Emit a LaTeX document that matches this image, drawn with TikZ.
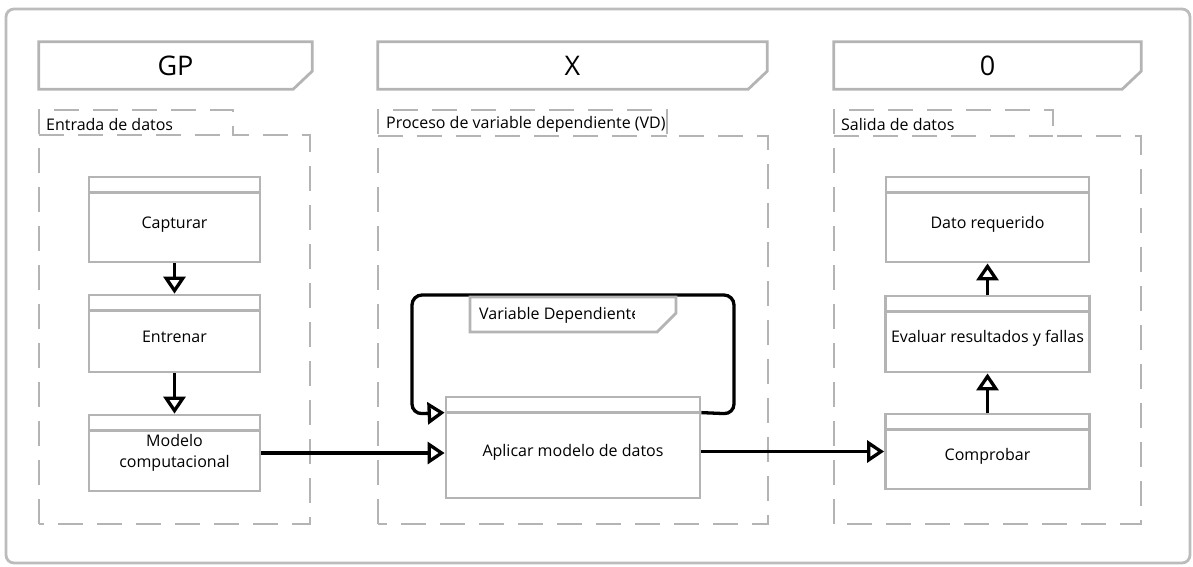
\documentclass[tikz,border=0pt]{standalone}
\usepackage{fontspec}
\setmainfont{Open Sans}
\usetikzlibrary{arrows.meta}
\definecolor{lgray}{RGB}{180,180,180}
\definecolor{fgray}{RGB}{188,188,188}
\tikzset{
  hdrtext/.style={font=\fontsize{27}{30}\selectfont, inner sep=0pt},
  hdrshape/.style={draw=lgray, line width=2.8pt},
  cont/.style={draw=lgray, line width=2.8pt, dash pattern=on 25pt off 14pt},
  tabtext/.style={font=\fontsize{16}{19}\selectfont, anchor=west, inner sep=0pt},
  box/.style={draw=lgray, line width=2.8pt, align=center, inner sep=0pt,
    font=\fontsize{16}{22}\selectfont, minimum width=#1},
  box/.default=171pt,
  low/.style={text height=17pt, text depth=-1pt},
  strip/.style={draw=lgray, line width=2.8pt},
  flow/.style={draw=black, line width=3.3pt, -{Triangle[open, length=17pt, width=22pt, line width=3.3pt]}},
}
\begin{document}
\begin{tikzpicture}[x=1pt, y=-1pt]
\useasboundingbox (0,0) rectangle (1193,566);
% outer frame
\draw[draw=fgray, line width=2.8pt, rounded corners=8pt] (6,9) rectangle (1190,563);

% headers
\node[hdrtext, minimum width=273pt, minimum height=47pt] (hGP) at (175.5,65.5) {GP};
\node[hdrtext, minimum width=389pt, minimum height=47pt] (hX) at (572.5,65.5) {X};
\node[hdrtext, minimum width=307pt, minimum height=47pt] (h0) at (987.5,65.5) {0};
\foreach \h in {hGP,hX,h0}{
  \draw[hdrshape] (\h.north west) -- (\h.north east) -- ([yshift=18pt]\h.south east)
    -- ([xshift=-19pt]\h.south east) -- (\h.south west) -- cycle;
}

% containers
\draw[cont] (39,524) -- (39,110) -- (233,110) -- (233,135) -- (310,135) -- (310,524) -- cycle;
\draw[cont] (39,135) -- (233,135);
\draw[cont] (378,524) -- (378,110) -- (667,110) -- (667,136) -- (768,136) -- (768,524) -- cycle;
\draw[cont] (378,136) -- (667,136);
\draw[cont] (834,524) -- (834,110) -- (1053,110) -- (1053,136) -- (1141,136) -- (1141,524) -- cycle;
\draw[cont] (834,136) -- (1053,136);
\node[tabtext] (tEnt) at (46,124) {Entrada de datos};
\node[tabtext] (tPro) at (386,124) {Proceso de variable dependiente (VD)};
\node[tabtext] (tSal) at (841,124) {Salida de datos};

% boxes left
\node[box, low, minimum height=85pt] (cap) at (174.5,219.5) {Capturar};
\node[box, low, minimum height=77pt] (ent) at (174.5,333.5) {Entrenar};
\node[box, minimum height=76pt, font=\fontsize{16}{21}\selectfont] (mod) at (174.5,453) {Modelo\\computacional};
% boxes right
\node[box=203pt, low, minimum height=85pt] (dat) at (987.5,219.5) {Dato requerido};
\node[box=204pt, low, minimum height=76pt] (eva) at (987.5,334) {Evaluar resultados y fallas};
\node[box=204pt, low, minimum height=75pt] (com) at (987.5,451.5) {Comprobar};
% middle
\node[box=254pt, low, minimum height=101pt] (apl) at (573,447.5) {Aplicar modelo de datos};

\foreach \b in {cap,ent,mod,dat,eva,com,apl}{
  \draw[strip] ([yshift=-17pt]\b.north west) -- ([yshift=-17pt]\b.north east);
}

% loop
\coordinate (lbr) at (734,414);
\coordinate (ltr) at (734,295);
\coordinate (ltl) at (412,295);
\coordinate (lbl) at (412,414);
\draw[flow, rounded corners=10pt] ([yshift=-17pt]apl.north east) -- (lbr) -- (ltr) -- (ltl) -- (lbl) -- ([yshift=-17pt]apl.north west);

% Variable Dependiente tab
\draw[hdrshape, fill=white] (470,297) -- (676,297) -- (676,313) -- (657,332) -- (470,332) -- cycle;
\begin{scope}
  \clip (470,297) rectangle (634,332);
  \node[tabtext] (tVD) at (479,315) {Variable Dependiente};
\end{scope}

% flows
\draw[flow] (cap.south) -- (ent.north);
\draw[flow] (ent.south) -- (mod.north);
\draw[flow] (mod.east) -- (mod.east -| apl.west);
\draw[flow] (com.west -| apl.east) -- (com.west);
\draw[flow] (com.north) -- (eva.south);
\draw[flow] (eva.north) -- (dat.south);
\end{tikzpicture}
\end{document}
